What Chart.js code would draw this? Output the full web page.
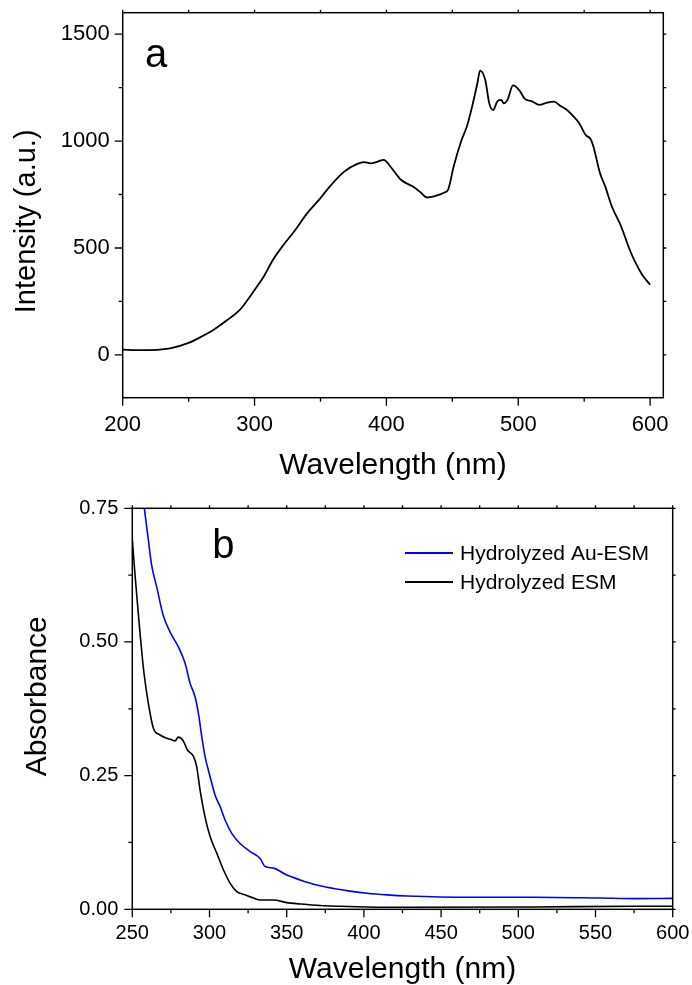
<!DOCTYPE html>
<html lang="en">
<head>
  <meta charset="UTF-8">
  <title>Emission and absorbance spectra</title>
  <script src="https://cdn.jsdelivr.net/npm/chart.js"></script>
  <style>
    body {
      margin: 0;
      background: #ffffff;
    }

    .panel {
      position: absolute;
      left: 0;
      width: 692px;
    }

    #panelA { top: 0; height: 490px; }
    #panelB { top: 490px; height: 495px; }
  </style>
</head>
<body>
  <div class="panel" id="panelA"><canvas id="chartA" width="692" height="490"></canvas></div>
  <div class="panel" id="panelB"><canvas id="chartB" width="692" height="495"></canvas></div>

  <script>
    // Panel a: emission spectrum
    const wavelengthA = [200, 213, 236, 250, 261, 269, 279, 289, 294, 302, 307, 314, 322, 330, 340, 350, 357, 368, 378, 383,
      388, 393, 398, 403, 411, 421, 426, 431, 436, 444, 447, 451, 457, 461, 465, 469, 471, 475, 478, 481,
      484, 487, 489, 492, 496, 501, 505, 510, 516, 522, 527, 532, 537, 542, 546, 551, 555, 557, 562, 566,
      571, 578, 584, 589, 594, 600];
    const intensityA = [25, 22, 31, 56, 90, 118, 162, 212, 251, 321, 367, 445, 515, 577, 663, 733, 787, 857, 893, 901,
      896, 903, 912, 881, 819, 784, 759, 736, 741, 759, 775, 881, 1005, 1068, 1161, 1270, 1329, 1285, 1176, 1145,
      1184, 1192, 1176, 1195, 1260, 1236, 1197, 1187, 1169, 1180, 1184, 1164, 1145, 1114, 1086, 1029, 1008, 974, 850, 787,
      694, 601, 500, 430, 375, 328];
    const xTicksA = [200, 300, 400, 500, 600];
    const xMinorA = [250, 350, 450, 550];
    const yTicksA = [0, 500, 1000, 1500];
    const yMinorA = [250, 750, 1250];

    // Panel b: absorbance spectra
    const wavelengthAu = [257.8, 260.4, 262.5, 265.8, 270, 274.4, 279.8, 284.2, 287.4, 290.6,
      292.8, 295, 297.1, 300.4, 303.6, 306.9, 310.1, 314.4, 319.8, 326.3,
      332.8, 336, 341.4, 350, 358.7, 369.5, 380.3, 391, 402, 415,
      428, 467, 510, 553, 575, 600];
    const absorbanceAu = [0.75, 0.691, 0.644, 0.603, 0.550, 0.519, 0.491, 0.460, 0.423, 0.398,
      0.367, 0.323, 0.286, 0.248, 0.214, 0.192, 0.167, 0.142, 0.123, 0.108,
      0.095, 0.080, 0.077, 0.064, 0.055, 0.0455, 0.039, 0.034, 0.030, 0.027,
      0.025, 0.0225, 0.0225, 0.021, 0.020, 0.0205];
    const wavelengthEsm = [250, 251.7, 253.5, 255.4, 257.6, 260.4, 263.6, 268, 272.3, 275.5,
      277.7, 279.8, 283, 285.7, 289.6, 291.7, 293.9, 297.1, 300.4, 304.7,
      309, 313.3, 317.7, 323, 328.5, 332.8, 341.4, 350, 358.7, 371.7,
      384.7, 402, 424, 510, 575, 600];
    const absorbanceEsm = [0.691, 0.628, 0.566, 0.504, 0.441, 0.385, 0.339, 0.326, 0.320, 0.317,
      0.315, 0.322, 0.315, 0.298, 0.286, 0.267, 0.223, 0.173, 0.136, 0.105,
      0.074, 0.049, 0.033, 0.027, 0.021, 0.0175, 0.0175, 0.0125, 0.010, 0.007,
      0.0056, 0.0044, 0.0037, 0.0044, 0.0056, 0.0056];
    const seriesNames = ['Hydrolyzed Au-ESM', 'Hydrolyzed ESM'];
    const xTicksB = [250, 300, 350, 400, 450, 500, 550, 600];
    const xMinorB = [275, 325, 375, 425, 475, 525, 575];
    const yTicksB = [0, 0.25, 0.5, 0.75];
    const yMinorB = [0.125, 0.375, 0.625];

    const FONT = "'Liberation Sans', Arial, sans-serif";
    Chart.defaults.font.family = FONT;
    Chart.defaults.color = '#000';

    const toPoints = (xs, ys) => xs.map((x, i) => ({ x: x, y: ys[i] }));

    // frame round the plot area, plus major/minor ticks on all four sides
    const frameTicks = {
      id: 'frameTicks',
      afterDraw(chart, args, opts) {
        const { ctx, chartArea: a, scales } = chart;
        const sx = scales.x, sy = scales.y;
        ctx.save();
        ctx.strokeStyle = '#000';
        ctx.lineWidth = 1.5;
        ctx.strokeRect(a.left, a.top, a.right - a.left, a.bottom - a.top);
        ctx.lineWidth = 1.3;
        ctx.beginPath();
        const xMarks = opts.xMajor.map(v => [v, 8]).concat(opts.xMinor.map(v => [v, 4]));
        xMarks.forEach(([v, len]) => {
          const px = sx.getPixelForValue(v);
          ctx.moveTo(px, a.bottom); ctx.lineTo(px, a.bottom + len);
          ctx.moveTo(px, a.top); ctx.lineTo(px, a.top - 3);
        });
        const yMarks = opts.yMajor.map(v => [v, 8]).concat(opts.yMinor.map(v => [v, 4]));
        yMarks.forEach(([v, len]) => {
          const py = sy.getPixelForValue(v);
          ctx.moveTo(a.left, py); ctx.lineTo(a.left - len, py);
          ctx.moveTo(a.right, py); ctx.lineTo(a.right + 3, py);
        });
        ctx.stroke();
        ctx.restore();
      }
    };

    // panel letter and the small legend inside the plot
    const panelText = {
      id: 'panelText',
      afterDraw(chart, args, opts) {
        const { ctx, chartArea: a } = chart;
        ctx.save();
        ctx.fillStyle = '#000';
        ctx.font = '40px ' + FONT;
        ctx.textBaseline = 'alphabetic';
        ctx.textAlign = 'left';
        ctx.fillText(opts.label, a.left + opts.labelDx, a.top + opts.labelDy);
        if (opts.legend) {
          ctx.font = '21px ' + FONT;
          ctx.textBaseline = 'middle';
          chart.data.datasets.forEach((ds, i) => {
            const y = a.top + 44.7 + i * 29;
            ctx.strokeStyle = ds.borderColor;
            ctx.lineWidth = 2;
            ctx.beginPath();
            ctx.moveTo(a.right - 267.7, y);
            ctx.lineTo(a.right - 219.7, y);
            ctx.stroke();
            ctx.fillText(ds.label, a.right - 212.7, y + 1);
          });
        }
        ctx.restore();
      }
    };

    function fixedTicks(values) {
      return scale => { scale.ticks = values.map(v => ({ value: v })); };
    }

    // fixed axis box size, and no extra room for labels hanging over the ends
    function fixedSize(key, size) {
      return scale => {
        scale[key] = size;
        scale.paddingTop = 0;
        scale.paddingBottom = 0;
        scale.paddingLeft = 0;
        scale.paddingRight = 0;
      };
    }

    // Panel a
    new Chart(document.getElementById('chartA'), {
      type: 'line',
      data: {
        datasets: [{
          label: 'Intensity',
          data: toPoints(wavelengthA, intensityA),
          borderColor: '#000',
          borderWidth: 1.8,
          pointRadius: 0,
          cubicInterpolationMode: 'monotone'
        }]
      },
      options: {
        responsive: false,
        animation: false,
        devicePixelRatio: 1,
        layout: { padding: { left: 0, top: 12.7, right: 28.7, bottom: 0 } },
        plugins: {
          legend: { display: false },
          tooltip: { enabled: false },
          frameTicks: { xMajor: xTicksA, xMinor: xMinorA, yMajor: yTicksA, yMinor: yMinorA },
          panelText: { label: 'a', labelDx: 22.3, labelDy: 54.3, legend: false }
        },
        scales: {
          x: {
            type: 'linear',
            min: 200,
            max: 610,
            afterBuildTicks: fixedTicks(xTicksA),
            afterFit: fixedSize('height', 92.3),
            grid: { display: false, drawTicks: false },
            border: { display: false },
            ticks: { font: { size: 22 }, padding: 14, autoSkip: false, maxRotation: 0, callback: v => String(v) },
            title: { display: true, text: 'Wavelength (nm)', font: { size: 30, lineHeight: 1 }, padding: { top: 0, bottom: 9 } }
          },
          y: {
            min: -200,
            max: 1600,
            afterBuildTicks: fixedTicks(yTicksA),
            afterFit: fixedSize('width', 122.7),
            grid: { display: false, drawTicks: false },
            border: { display: false },
            ticks: { font: { size: 22 }, padding: 13, callback: v => String(v) },
            title: { display: true, text: 'Intensity (a.u.)    ', font: { size: 29, lineHeight: 1 }, padding: { top: 12, bottom: 0 } }
          }
        }
      },
      plugins: [frameTicks, panelText]
    });

    // Panel b
    new Chart(document.getElementById('chartB'), {
      type: 'line',
      data: {
        datasets: [{
          label: seriesNames[0],
          data: toPoints(wavelengthAu, absorbanceAu),
          borderColor: '#0000ff',
          borderWidth: 1.6,
          pointRadius: 0,
          cubicInterpolationMode: 'monotone'
        }, {
          label: seriesNames[1],
          data: toPoints(wavelengthEsm, absorbanceEsm),
          borderColor: '#000',
          borderWidth: 1.6,
          pointRadius: 0,
          cubicInterpolationMode: 'monotone'
        }]
      },
      options: {
        responsive: false,
        animation: false,
        devicePixelRatio: 1,
        layout: { padding: { left: 0, top: 18.3, right: 19.3, bottom: 0 } },
        plugins: {
          legend: { display: false },
          tooltip: { enabled: false },
          frameTicks: { xMajor: xTicksB, xMinor: xMinorB, yMajor: yTicksB, yMinor: yMinorB },
          panelText: { label: 'b', labelDx: 80, labelDy: 49.7, legend: true }
        },
        scales: {
          x: {
            type: 'linear',
            min: 250,
            max: 600,
            afterBuildTicks: fixedTicks(xTicksB),
            afterFit: fixedSize('height', 75.7),
            grid: { display: false, drawTicks: false },
            border: { display: false },
            ticks: { font: { size: 20 }, padding: 12, autoSkip: false, maxRotation: 0 },
            title: { display: true, text: 'Wavelength (nm)', font: { size: 30, lineHeight: 1 }, padding: { top: 0, bottom: 0.5 } }
          },
          y: {
            min: 0,
            max: 0.75,
            afterBuildTicks: fixedTicks(yTicksB),
            afterFit: fixedSize('width', 132.3),
            grid: { display: false, drawTicks: false },
            border: { display: false },
            ticks: { font: { size: 20 }, padding: 14, callback: v => v.toFixed(2) },
            title: { display: true, text: '   Absorbance', font: { size: 30, lineHeight: 1 }, padding: { top: 22.5, bottom: 0 } }
          }
        }
      },
      plugins: [frameTicks, panelText]
    });
  </script>
</body>
</html>
